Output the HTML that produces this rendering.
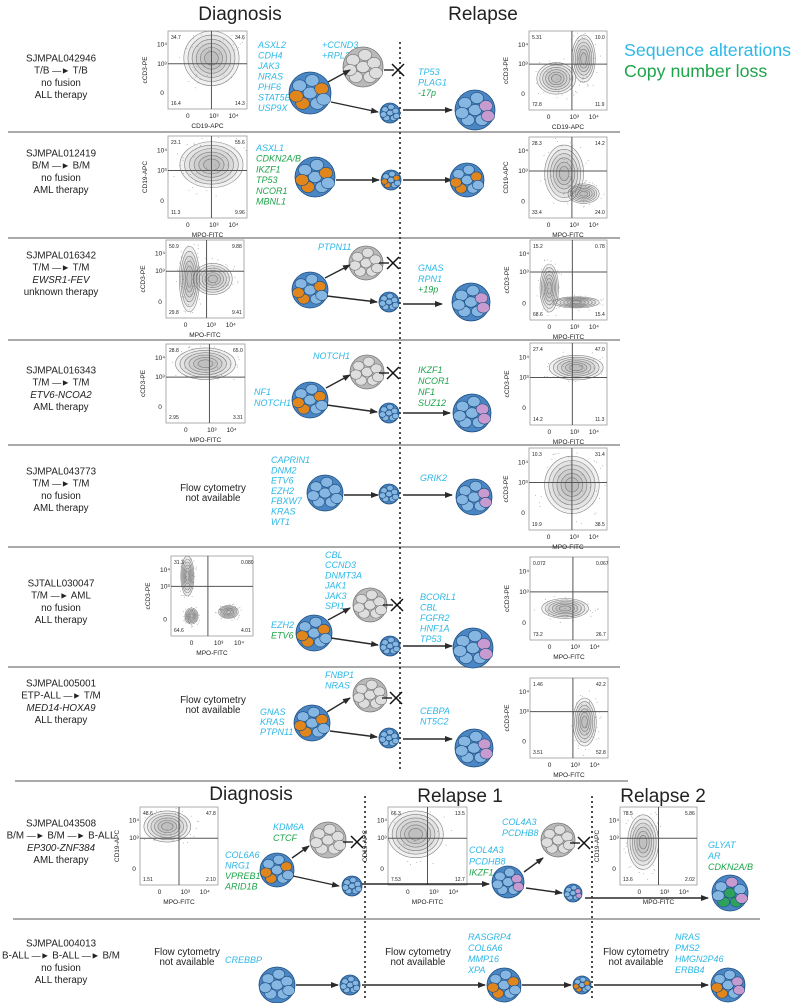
<!DOCTYPE html>
<html><head><meta charset="utf-8"><style>
html,body{margin:0;padding:0;background:#fff;}
svg{display:block;font-family:"Liberation Sans",Arial,sans-serif;}
.lab{font-size:9.8px;fill:#222;text-anchor:middle;}
.g{font-size:9px;font-style:italic;}
.ax{font-size:6.5px;fill:#222;text-anchor:middle;}
.n{font-size:5px;fill:#222;}
.hd{font-size:19px;fill:#222;text-anchor:middle;}
</style></head><body>
<svg id="s" width="800" height="1003" viewBox="0 0 800 1003" xmlns="http://www.w3.org/2000/svg">
<defs>
<marker id="ah" markerWidth="8" markerHeight="6" refX="7" refY="3" orient="auto" markerUnits="userSpaceOnUse"><path d="M0,0 L8,3 L0,6 z" fill="#2a2a2a"/></marker>
</defs>
<text x="240" y="20" class="hd">Diagnosis</text>
<text x="483" y="20" class="hd">Relapse</text>
<text x="624" y="56" style="font-size:17.8px;fill:#2eb8e6">Sequence alterations</text>
<text x="624" y="77" style="font-size:17.8px;fill:#1ea44b">Copy number loss</text>
<text x="251" y="800" class="hd">Diagnosis</text>
<text x="460" y="802" class="hd">Relapse 1</text>
<text x="663" y="802" class="hd">Relapse 2</text>
<g id="c"></g>
</svg>
<script>
var o='';
var C='#2eb8e6',G='#1ea44b';
var seed=7;function rnd(){seed=(seed*16807)%2147483647;return seed/2147483647;}
function line(x1,y1,x2,y2,s,w,extra){o+='<line x1="'+x1+'" y1="'+y1+'" x2="'+x2+'" y2="'+y2+'" stroke="'+(s||'#666')+'" stroke-width="'+(w||1.2)+'" '+(extra||'')+'/>';}
function arr(x1,y1,x2,y2){line(x1,y1,x2,y2,'#2a2a2a',1.4,'marker-end="url(#ah)"');}
function X(x,y){line(x-14,y,x-4,y,'#222',1.4);line(x-6,y-6,x+6,y+6,'#111',1.5);line(x-6,y+6,x+6,y-6,'#111',1.5);}
function txt(x,y,t,cls,fill){o+='<text x="'+x+'" y="'+y+'" class="'+cls+'"'+(fill?' fill="'+fill+'"':'')+'>'+t+'</text>';}
function genes(x,y,step,list){list.forEach(function(g,i){txt(x,y+i*step+3,g[0],'g',g[1]);});}
function label(y,lines){lines.forEach(function(l,i){o+='<text x="61" y="'+(y+i*12.2+3.5)+'" class="lab"'+(l[1]?' font-style="italic"':'')+'>'+l[0]+'</text>';});}
function na(x,y){txt(x,y+3,'Flow cytometry','lab');txt(x,y+13,'not available','lab');}
function cell(cx,cy,r,k){
  var gray=k=='gray';
  var base=gray?'#b9b9b9':'#4a86c4',st=gray?'#777':'#1f4f80',inn=gray?'#dedede':'#86b6e2';
  o+='<circle cx="'+cx+'" cy="'+cy+'" r="'+r+'" fill="'+base+'" stroke="'+st+'" stroke-width="0.8"/>';
  var pts=[[0,0],[0.55,-0.2],[-0.5,-0.35],[0.1,-0.6],[-0.35,0.5],[0.35,0.5],[-0.65,0.15],[0.65,0.3]];
  pts.forEach(function(p,i){
    var f=inn;
    if(k=='o'&&(i==4||i==6||i==1))f='#e0861d';
    if(k=='p'&&(i==1||i==7))f='#c79ad0';
    if(k=='op'&&(i==4||i==6))f='#e0861d';
    if(k=='op'&&(i==1||i==7))f='#c79ad0';
    if(k=='pg'&&(i==0||i==5||i==4))f='#2ea25a';
    if(k=='pg'&&(i==3||i==7))f='#c79ad0';
    o+='<ellipse cx="'+(cx+p[0]*r)+'" cy="'+(cy+p[1]*r)+'" rx="'+(r*0.33)+'" ry="'+(r*0.28)+'" fill="'+f+'" stroke="'+st+'" stroke-width="0.6"/>';
  });
}
function plot(x,y,w,h,yl,xl,n,qx,qy,blobs){
  o+='<rect x="'+x+'" y="'+y+'" width="'+w+'" height="'+h+'" fill="#fff" stroke="#999" stroke-width="0.8"/>';
  (blobs||[]).forEach(function(b){
    for(var k=0;k<40;k++){var a=rnd()*6.283,d=Math.sqrt(rnd())*1.4;
      var px=x+b[0]*w+Math.cos(a)*b[2]*w*d,py=y+b[1]*h+Math.sin(a)*b[3]*h*d;
      if(px>x+1&&px<x+w-1&&py>y+1&&py<y+h-1)o+='<rect x="'+px.toFixed(1)+'" y="'+py.toFixed(1)+'" width="0.8" height="0.8" fill="#999"/>';}
    for(var i=0;i<6;i++){var s=1-i*0.15;
      o+='<ellipse cx="'+(x+b[0]*w)+'" cy="'+(y+b[1]*h)+'" rx="'+(b[2]*w*s)+'" ry="'+(b[3]*h*s)+'" fill="#888" fill-opacity="0.12" stroke="#666" stroke-width="0.6" stroke-opacity="0.8"/>';}
  });
  line(x+qx*w,y,x+qx*w,y+h,'#555',1);line(x,y+qy*h,x+w,y+qy*h,'#555',1);
  txt(x+3,y+8,n[0],'n');txt(x+w-12,y+8,n[1],'n');txt(x+3,y+h-4,n[2],'n');txt(x+w-12,y+h-4,n[3],'n');
  txt(x+w*0.25,y+h+9,'0','ax');txt(x+w*0.58,y+h+9,'10³','ax');txt(x+w*0.83,y+h+9,'10⁴','ax');
  txt(x+w/2,y+h+19,xl,'ax');
  txt(x-6,y+h*0.2,'10⁴','ax');txt(x-6,y+qy*h+2,'10³','ax');txt(x-6,y+h*0.82,'0','ax');
  o+='<text class="ax" transform="translate('+(x-21)+','+(y+h/2)+') rotate(-90)">'+yl+'</text>';
}
[132,238,340,445,547,667].forEach(function(y){line(8,y,620,y,'#777',1.2);});
line(15,781,628,781,'#777',1.2);line(13,919,760,919,'#777',1.2);
line(400,42,400,770,'#222',1.6,'stroke-dasharray="2,3"');
line(365,796,365,1000,'#222',1.6,'stroke-dasharray="2,3"');
line(592,796,592,1000,'#222',1.6,'stroke-dasharray="2,3"');
var A=' <tspan font-size="9">—►</tspan> ';
// Row1
label(58,[['SJMPAL042946'],['T/B'+A+'T/B'],['no fusion'],['ALL therapy']]);
plot(168,31,79,78,'cCD3-PE','CD19-APC',['34.7','34.6','16.4','14.3'],0.55,0.42,[[0.55,0.35,0.35,0.35]]);
plot(529,31,78,79,'cCD3-PE','CD19-APC',['5.31','10.0','72.8','11.9'],0.55,0.42,[[0.35,0.6,0.25,0.2],[0.7,0.35,0.15,0.3]]);
genes(258,45,10.5,[['ASXL2',C],['CDH4',C],['JAK3',C],['NRAS',C],['PHF6',C],['STAT5B',C],['USP9X',C]]);
genes(322,45,10.5,[['+CCND3',C],['+RPL22',C]]);
genes(418,72,10.5,[['TP53',C],['PLAG1',C],['-17p',G]]);
cell(310,93,21,'o');cell(363,67,20,'gray');X(398,70);cell(390,113,10,'b');
arr(328,82,350,70);arr(331,102,378,112);arr(403,110,452,110);cell(475,110,20,'p');
// Row2
label(153,[['SJMPAL012419'],['B/M'+A+'B/M'],['no fusion'],['AML therapy']]);
plot(168,136,79,82,'CD19-APC','MPO-FITC',['23.1','55.6','11.3','9.96'],0.55,0.42,[[0.55,0.35,0.4,0.28]]);
plot(529,137,78,81,'CD19-APC','MPO-FITC',['28.3','14.2','33.4','24.0'],0.55,0.42,[[0.45,0.45,0.25,0.35],[0.7,0.7,0.2,0.12]]);
genes(256,148,10.7,[['ASXL1',C],['CDKN2A/B',G],['IKZF1',G],['TP53',G],['NCOR1',G],['MBNL1',G]]);
cell(315,177,20,'o');arr(336,180,379,180);cell(391,180,10,'o');arr(403,180,452,180);cell(467,180,17,'o');
// Row3
label(255,[['SJMPAL016342'],['T/M'+A+'T/M'],['EWSR1-FEV',1],['unknown therapy']]);
plot(166,240,78,78,'cCD3-PE','MPO-FITC',['50.9','9.88','29.8','9.41'],0.52,0.4,[[0.3,0.5,0.13,0.42],[0.6,0.5,0.25,0.2]]);
plot(530,240,77,80,'cCD3-PE','MPO-FITC',['15.2','0.78','68.6','15.4'],0.55,0.4,[[0.25,0.6,0.12,0.3],[0.6,0.78,0.3,0.07]]);
genes(318,247,10.5,[['PTPN11',C]]);
genes(418,268,10.8,[['GNAS',C],['RPN1',C],['+19p',G]]);
cell(310,290,18,'o');cell(366,263,17,'gray');X(393,263);cell(389,302,10,'b');
arr(325,278,350,265);arr(327,296,377,302);arr(403,304,442,304);cell(471,302,19,'p');
// Row4
label(370,[['SJMPAL016343'],['T/M'+A+'T/M'],['ETV6-NCOA2',1],['AML therapy']]);
plot(166,344,79,79,'cCD3-PE','MPO-FITC',['28.8','65.0','2.95','3.31'],0.55,0.42,[[0.5,0.25,0.38,0.2]]);
plot(530,343,77,82,'cCD3-PE','MPO-FITC',['27.4','47.0','14.2','11.3'],0.55,0.42,[[0.6,0.3,0.35,0.15]]);
genes(313,356,10.5,[['NOTCH1',C]]);
genes(254,392,11,[['NF1',C],['NOTCH1',C]]);
genes(418,370,11,[['IKZF1',G],['NCOR1',G],['NF1',G],['SUZ12',G]]);
cell(310,400,18,'o');cell(367,372,17,'gray');X(393,373);cell(389,413,10,'b');
arr(326,388,350,375);arr(327,405,377,412);arr(403,413,450,413);cell(472,413,19,'p');
// Row5
label(471,[['SJMPAL043773'],['T/M'+A+'T/M'],['no fusion'],['AML therapy']]);
na(213,488);
plot(529,448,78,82,'cCD3-PE','MPO-FITC',['10.3','31.4','19.9','38.5'],0.55,0.42,[[0.55,0.45,0.35,0.35]]);
genes(271,460,10.3,[['CAPRIN1',C],['DNM2',C],['ETV6',C],['EZH2',C],['FBXW7',C],['KRAS',C],['WT1',C]]);
cell(325,493,18,'b');arr(344,495,378,495);cell(389,494,10,'b');arr(403,495,452,495);
genes(420,478,10,[['GRIK2',C]]);cell(474,497,18,'p');
// Row6
label(583,[['SJTALL030047'],['T/M'+A+'AML'],['no fusion'],['ALL therapy']]);
plot(171,556,82,80,'cCD3-PE','MPO-FITC',['31.3','0.080','64.6','4.01'],0.45,0.38,[[0.2,0.25,0.08,0.25],[0.25,0.75,0.08,0.1],[0.7,0.7,0.12,0.08]]);
plot(530,557,78,83,'cCD3-PE','MPO-FITC',['0.072','0.067','73.2','26.7'],0.55,0.42,[[0.45,0.62,0.3,0.12]]);
genes(325,555,10.2,[['CBL',C],['CCND3',C],['DNMT3A',C],['JAK1',C],['JAK3',C],['SPI1',C]]);
genes(271,625,10.5,[['EZH2',C],['ETV6',G]]);
genes(420,597,10.5,[['BCORL1',C],['CBL',C],['FGFR2',C],['HNF1A',C],['TP53',C]]);
cell(314,633,18,'o');cell(370,605,17,'gray');X(397,605);cell(390,646,10,'b');
arr(328,620,350,608);arr(331,638,378,645);arr(403,646,452,646);cell(473,648,20,'p');
// Row7
label(683,[['SJMPAL005001'],['ETP-ALL'+A+'T/M'],['MED14-HOXA9',1],['ALL therapy']]);
na(213,700);
plot(530,678,78,80,'cCD3-PE','MPO-FITC',['1.46','42.2','3.51','52.8'],0.55,0.42,[[0.7,0.55,0.15,0.3]]);
genes(325,675,10.5,[['FNBP1',C],['NRAS',C]]);
genes(260,712,10,[['GNAS',C],['KRAS',C],['PTPN11',C]]);
genes(420,711,10.5,[['CEBPA',C],['NT5C2',C]]);
cell(312,723,18,'o');cell(370,695,17,'gray');X(396,698);cell(389,738,10,'b');
arr(327,712,350,698);arr(330,731,377,737);arr(403,739,452,739);cell(474,748,19,'p');
// Row8
label(823,[['SJMPAL043508'],['B/M'+A+'B/M'+A+'B-ALL'],['EP300-ZNF384',1],['AML therapy']]);
plot(140,807,78,78,'CD19-APC','MPO-FITC',['48.6','47.8','1.51','2.10'],0.5,0.4,[[0.35,0.25,0.3,0.2]]);
plot(388,807,79,78,'CD19-APC','MPO-FITC',['66.3','13.5','7.53','12.7'],0.5,0.4,[[0.35,0.35,0.35,0.3]]);
plot(620,807,77,78,'CD19-APC','MPO-FITC',['78.5','5.86','13.6','2.02'],0.5,0.4,[[0.3,0.45,0.2,0.35]]);
genes(225,855,10.5,[['COL6A6',C],['NRG1',C],['VPREB1',G],['ARID1B',G]]);
genes(273,827,11,[['KDM6A',C],['CTCF',G]]);
cell(277,870,17,'o');cell(328,840,18,'gray');X(357,842);cell(352,886,10,'b');
arr(292,858,309,846);arr(293,876,339,886);arr(362,884,489,884);
genes(469,850,11.3,[['COL4A3',C],['PCDHB8',C],['IKZF1',G]]);
genes(502,822,11,[['COL4A3',C],['PCDHB8',C]]);
cell(508,882,16,'p');cell(558,840,17,'gray');X(584,843);cell(573,893,9,'p');
arr(524,872,543,858);arr(526,888,562,893);arr(585,898,708,898);
genes(708,845,11,[['GLYAT',C],['AR',C],['CDKN2A/B',G]]);
cell(730,893,18,'pg');
// Row9
label(943,[['SJMPAL004013'],['B-ALL'+A+'B-ALL'+A+'B/M'],['no fusion'],['ALL therapy']]);
na(187,952);na(418,952);na(636,952);
genes(225,960,10,[['CREBBP',C]]);
genes(468,937,11,[['RASGRP4',C],['COL6A6',C],['MMP16',C],['XPA',C]]);
genes(675,937,11,[['NRAS',C],['PMS2',C],['HMGN2P46',C],['ERBB4',C]]);
cell(277,985,18,'b');arr(296,985,338,985);cell(350,985,10,'b');arr(362,985,485,985);
cell(504,985,17,'o');arr(522,985,571,985);cell(582,985,9,'o');arr(594,985,708,985);cell(728,985,17,'op');
document.getElementById('c').innerHTML=o;
</script>
</body></html>
